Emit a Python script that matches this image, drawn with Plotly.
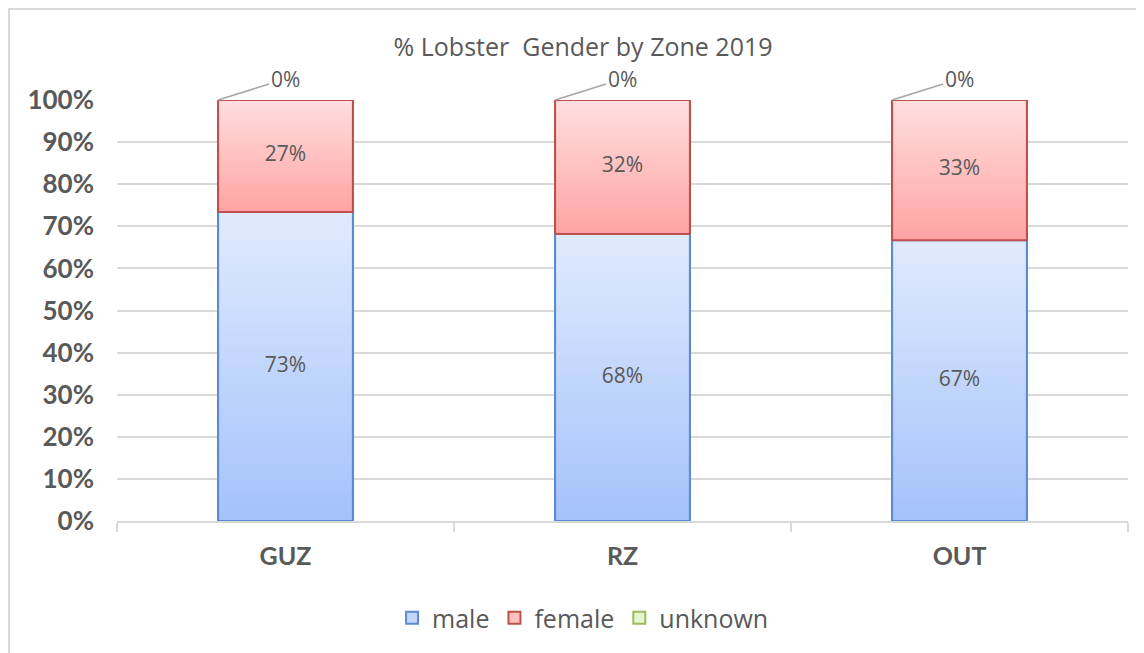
import plotly.graph_objects as go

zones = ["GUZ", "RZ", "OUT"]
male = [73.4, 68.2, 66.7]
female = [26.6, 31.8, 33.3]
unknown = [0.0, 0.0, 0.0]
y_tick_values = [0, 10, 20, 30, 40, 50, 60, 70, 80, 90, 100]
y_tick_labels = [f"{v}%" for v in y_tick_values]
title_text = "% Lobster  Gender by Zone 2019"

series = [
    ("male", male, "#c4d6fb", "#5b8bd0", "#a4c2fb", "#e0eafd"),
    ("female", female, "#ffc0c0", "#c0504d", "#ffa3a3", "#ffdfdf"),
    ("unknown", unknown, "#e6f4d0", "#9bbb59", "#cfe8a6", "#f0f9e4"),
]

GRAY = "#595959"
BAR_W = 0.4
fig = go.Figure()

# Bar traces (structure + legend)
for name, vals, col, border, _, _ in series:
    fig.add_trace(go.Bar(
        x=zones, y=vals, name=name, width=BAR_W,
        marker=dict(color=col, line=dict(color=border, width=2)),
        hoverinfo="skip",
    ))

# Gradient overlays computed from the same data
base = [0.0] * len(zones)
for name, vals, col, border, bottom, top in series:
    for i, v in enumerate(vals):
        if v > 0:
            b = base[i]
            fig.add_trace(go.Scatter(
                x=[i - BAR_W / 2, i + BAR_W / 2, i + BAR_W / 2, i - BAR_W / 2, i - BAR_W / 2],
                y=[b, b, b + v, b + v, b],
                xaxis="x2", mode="lines", fill="toself",
                fillgradient=dict(type="vertical", colorscale=[[0, bottom], [1, top]]),
                line=dict(color=border, width=2),
                showlegend=False, hoverinfo="skip",
            ))
            fig.add_trace(go.Scatter(
                x=[i], y=[b + v / 2], xaxis="x2", mode="text",
                text=[f"{round(v)}%"],
                textfont=dict(family="Open Sans", size=21, color=GRAY),
                showlegend=False, hoverinfo="skip",
            ))
        base[i] += v

# zero labels for unknown
for i, v in enumerate(unknown):
    if v == 0:
        fig.add_annotation(
            x=i - BAR_W / 2, y=base[i], xref="x2", yref="y",
            text=f"{round(v)}%", showarrow=True, arrowhead=0,
            arrowcolor="#a6a6a6", arrowwidth=1.5,
            ax=67, ay=-21,
            font=dict(family="Open Sans", size=21, color=GRAY),
        )

fig.add_shape(type="rect", xref="paper", yref="paper",
              x0=(9 - 117) / 1011, x1=1.2, y0=-0.6, y1=(521 - 9) / 421,
              line=dict(color="#d9d9d9", width=2), layer="below")

fig.update_layout(
    width=1136, height=645,
    barmode="stack",
    plot_bgcolor="white", paper_bgcolor="white",
    margin=dict(l=109, r=16, t=92, b=132),
    title=dict(text=title_text, x=0.461, xref="paper", xanchor="center",
               y=1 - 39 / 645, yref="container", yanchor="middle",
               font=dict(family="Open Sans", size=25, color=GRAY)),
    xaxis=dict(type="category", range=[-0.5, 2.5], tickson="boundaries",
               ticks="outside", ticklen=9, tickcolor="#d9d9d9", tickwidth=1.5,
               showline=True, linecolor="#d9d9d9", linewidth=1.5,
               showgrid=False, ticklabelstandoff=12,
               tickfont=dict(family="Lato", size=25, color=GRAY, weight="bold")),
    xaxis2=dict(overlaying="x", range=[-0.5, 2.5], visible=False),
    yaxis=dict(range=[0, 100], tickvals=y_tick_values, ticktext=y_tick_labels,
               showgrid=True, gridcolor="#d9d9d9", gridwidth=1.5,
               zeroline=False, showline=False, ticks="", ticklabelstandoff=22,
               tickfont=dict(family="Lato", size=26, color=GRAY, weight="bold")),
    legend=dict(orientation="h", x=0.461, xanchor="center",
                y=(521 - 618) / 421, yanchor="middle",
                font=dict(family="Open Sans", size=25, color=GRAY),
                traceorder="normal"),
)

fig.write_html("out.html")
